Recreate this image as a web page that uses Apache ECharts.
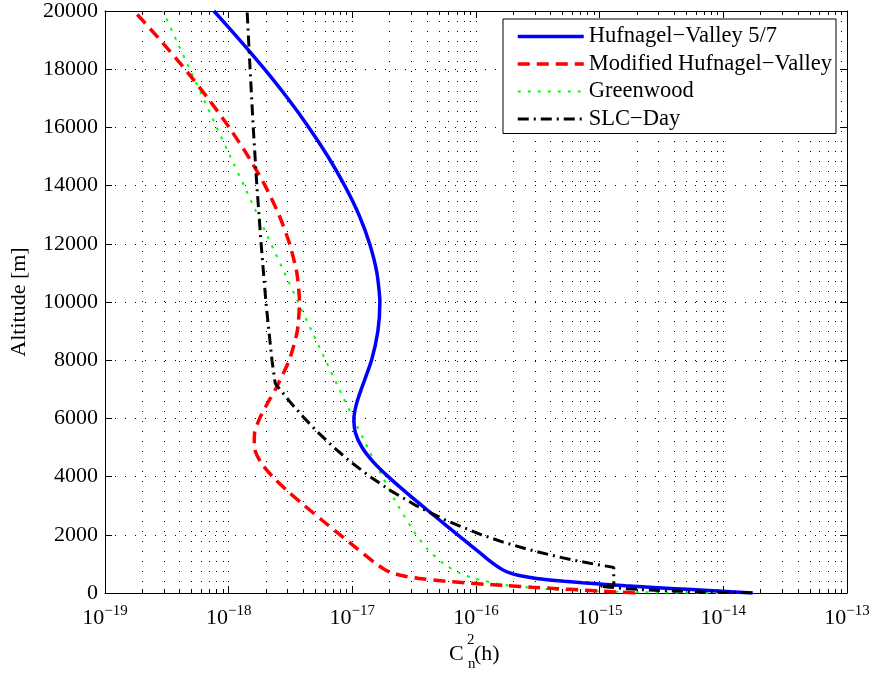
<!DOCTYPE html>
<html>
<head>
<meta charset="utf-8">
<script src="https://cdn.jsdelivr.net/npm/echarts@6/dist/echarts.min.js"></script>
<style>
html,body{margin:0;padding:0;background:#fff;}
#chart{width:873px;height:677px;}
</style>
</head>
<body>
<div id="chart"></div>
<script>
// ---- data ----
const seriesNames = ['Hufnagel\u2212Valley 5/7', 'Modified Hufnagel\u2212Valley', 'Greenwood', 'SLC\u2212Day'];

const hvAlt = [0, 50, 100, 150, 200, 250, 300, 350, 400, 500, 600, 700, 800, 900, 1000, 1200, 1500, 2000, 2500, 3000, 3500, 4000, 4500, 5000, 5500, 6000, 6500, 7000, 8000, 9000, 10000, 11000, 12000, 13000, 14000, 15000, 16000, 17000, 18000, 19000, 20000];
const hvCn2 = [1.73e-14, 1.06e-14, 6.5e-15, 4.04e-15, 2.54e-15, 1.62e-15, 1.07e-15, 7.27e-16, 5.18e-16, 3.08e-16, 2.23e-16, 1.85e-16, 1.64e-16, 1.50e-16, 1.39e-16, 1.21e-16, 9.93e-17, 7.12e-17, 5.1e-17, 3.66e-17, 2.65e-17, 1.95e-17, 1.48e-17, 1.2e-17, 1.06e-17, 1.03e-17, 1.08e-17, 1.18e-17, 1.43e-17, 1.61e-17, 1.67e-17, 1.58e-17, 1.38e-17, 1.13e-17, 8.67e-18, 6.35e-18, 4.45e-18, 3.0e-18, 1.95e-18, 1.23e-18, 7.6e-19];

const mhvAlt = [0, 50, 100, 150, 200, 250, 300, 350, 400, 500, 600, 700, 800, 1000, 1500, 2000, 2500, 3000, 3500, 4000, 4500, 5000, 5500, 6000, 6500, 7000, 8000, 9000, 10000, 11000, 12000, 13000, 14000, 15000, 16000, 17000, 18000, 19000, 20000];
const mhvCn2 = [1.93e-15, 1.18e-15, 7.27e-16, 4.51e-16, 2.84e-16, 1.82e-16, 1.19e-16, 8.13e-17, 5.79e-17, 3.44e-17, 2.50e-17, 2.07e-17, 1.84e-17, 1.56e-17, 1.11e-17, 7.96e-18, 5.7e-18, 4.11e-18, 3.0e-18, 2.26e-18, 1.81e-18, 1.61e-18, 1.62e-18, 1.78e-18, 2.05e-18, 2.39e-18, 3.09e-18, 3.59e-18, 3.74e-18, 3.56e-18, 3.11e-18, 2.55e-18, 1.97e-18, 1.44e-18, 1.01e-18, 6.8e-19, 4.44e-19, 2.8e-19, 1.72e-19];

const gwAlt = [0, 10, 20, 50, 100, 200, 300, 500, 700, 1000, 1500, 2000, 3000, 4000, 5000, 6000, 7000, 8000, 9000, 10000, 11000, 12000, 13000, 14000, 15000, 16000, 17000, 18000, 19000, 20000];
const gwCn2 = [1.1e-14, 4.48e-15, 2.64e-15, 1.10e-15, 5.18e-16, 2.41e-16, 1.58e-16, 9.66e-17, 7.24e-17, 5.48e-17, 4.07e-17, 3.28e-17, 2.34e-17, 1.75e-17, 1.33e-17, 1.02e-17, 7.86e-18, 6.07e-18, 4.70e-18, 3.64e-18, 2.83e-18, 2.20e-18, 1.71e-18, 1.33e-18, 1.03e-18, 8.0e-19, 6.23e-19, 4.85e-19, 3.77e-19, 2.94e-19];

const slcAlt = [0, 18.5, 18.5, 30, 50, 100, 150, 200, 240, 240, 880, 1000, 1100, 1250, 1500, 1750, 2000, 2500, 3000, 3500, 4000, 4500, 5000, 5500, 6000, 6500, 7200, 8000, 10000, 12000, 14000, 16000, 18000, 20000];
const slcCn2 = [1.7e-14, 1.7e-14, 1.46e-14, 8.8e-15, 5.15e-15, 2.49e-15, 1.62e-15, 1.20e-15, 9.92e-16, 1.3e-15, 1.3e-15, 8.87e-16, 6.66e-16, 4.54e-16, 2.63e-16, 1.655e-16, 1.11e-16, 5.68e-17, 3.29e-17, 2.07e-17, 1.39e-17, 9.73e-18, 7.10e-18, 5.33e-18, 4.11e-18, 3.23e-18, 2.38e-18, 2.24e-18, 2.0e-18, 1.83e-18, 1.69e-18, 1.58e-18, 1.49e-18, 1.41e-18];

const xMin = 1e-19, xMax = 1e-13;
const yMin = 0, yMax = 20000, yStep = 2000;
const xTitle = ['C', '2', 'n', '(h)'];
const yTitle = 'Altitude [m]';

// ---- chart ----
const FONT = 'Liberation Serif';
function pairs(xs, ys) { return xs.map((v, i) => [v, ys[i]]); }

const dotted = { color: '#000', width: 1, type: [1, 9] };

const chart = echarts.init(document.getElementById('chart'), null, { renderer: 'canvas' });
chart.setOption({
  animation: false,
  backgroundColor: '#fff',
  grid: { left: 102.5, right: 26, top: 7.5, bottom: 84, containLabel: false },
  xAxis: [
    {
      type: 'log', logBase: 10, min: xMin, max: xMax, splitNumber: 6,
      position: 'bottom',
      axisLine: { show: true, onZero: false, lineStyle: { color: '#000', width: 1 } },
      axisTick: { show: true, inside: true, length: 7, lineStyle: { color: '#000' } },
      minorTick: { show: true, splitNumber: 9, length: 4, lineStyle: { color: '#000' } },
      splitLine: { show: true, lineStyle: dotted },
      minorSplitLine: { show: true, lineStyle: dotted },
      axisLabel: {
        margin: 11,
        formatter: function (v) {
          const e = Math.round(Math.log10(v));
          return '{b|10}{s|' + (e < 0 ? '\u2212' + (-e) : e) + '}';
        },
        rich: {
          b: { fontFamily: FONT, fontSize: 22, color: '#000', lineHeight: 22, padding: [7, 0, 0, 0] },
          s: { fontFamily: FONT, fontSize: 15, color: '#000', lineHeight: 15, verticalAlign: 'top' }
        }
      }
    },
    {
      type: 'log', logBase: 10, min: xMin, max: xMax, splitNumber: 6,
      position: 'top',
      axisLine: { show: true, onZero: false, lineStyle: { color: '#000', width: 1 } },
      axisTick: { show: true, inside: true, length: 7, lineStyle: { color: '#000' } },
      minorTick: { show: true, splitNumber: 9, length: 4, lineStyle: { color: '#000' } },
      axisLabel: { show: false },
      splitLine: { show: false }
    }
  ],
  yAxis: [
    {
      type: 'value', min: yMin, max: yMax, interval: yStep,
      position: 'left',
      name: yTitle, nameLocation: 'middle', nameGap: 75, nameRotate: 90,
      nameTextStyle: { fontFamily: FONT, fontSize: 22, color: '#000' },
      axisLine: { show: true, onZero: false, lineStyle: { color: '#000', width: 1 } },
      axisTick: { show: true, inside: true, length: 7, lineStyle: { color: '#000' } },
      splitLine: { show: true, lineStyle: dotted },
      axisLabel: { margin: 7, fontFamily: FONT, fontSize: 22, color: '#000', formatter: function (v) { return String(v); } }
    },
    {
      type: 'value', min: yMin, max: yMax, interval: yStep,
      position: 'right',
      axisLine: { show: true, onZero: false, lineStyle: { color: '#000', width: 1 } },
      axisTick: { show: true, inside: true, length: 7, lineStyle: { color: '#000' } },
      splitLine: { show: false },
      axisLabel: { show: false }
    }
  ],
  legend: {
    orient: 'vertical', left: 503, top: 19,
    data: seriesNames,
    itemWidth: 66, itemHeight: 12, itemGap: 4.5,
    padding: [6, 4, 3, 13],
    borderColor: '#000', borderWidth: 1, backgroundColor: '#fff', borderRadius: 0,
    itemStyle: { opacity: 0 },
    lineStyle: { width: 'inherit' },
    textStyle: { fontFamily: FONT, fontSize: 22.5, color: '#000', lineHeight: 22.5 }
  },
  graphic: [
    { type: 'text', left: 449, top: 643, style: { text: xTitle[0], font: '22px "Liberation Serif"', fill: '#000' } },
    { type: 'text', left: 467, top: 633, style: { text: xTitle[1], font: '15px "Liberation Serif"', fill: '#000' } },
    { type: 'text', left: 468, top: 657, style: { text: xTitle[2], font: '15px "Liberation Serif"', fill: '#000' } },
    { type: 'text', left: 474, top: 643, style: { text: xTitle[3], font: '22px "Liberation Serif"', fill: '#000' } }
  ],
  series: [
    {
      name: seriesNames[0], type: 'line', data: pairs(hvCn2, hvAlt),
      symbol: 'none', smooth: 0.2, z: 5,
      lineStyle: { color: '#0000ff', width: 3.5, type: 'solid' },
      itemStyle: { color: '#0000ff' }
    },
    {
      name: seriesNames[1], type: 'line', data: pairs(mhvCn2, mhvAlt),
      symbol: 'none', smooth: 0.2, z: 4,
      lineStyle: { color: '#ff0000', width: 3.5, type: [12, 7] },
      itemStyle: { color: '#ff0000' }
    },
    {
      name: seriesNames[2], type: 'line', data: pairs(gwCn2, gwAlt),
      symbol: 'none', smooth: 0.2, z: 3,
      lineStyle: { color: '#00ff00', width: 2, type: [3, 7] },
      itemStyle: { color: '#00ff00' }
    },
    {
      name: seriesNames[3], type: 'line', data: pairs(slcCn2, slcAlt),
      symbol: 'none', smooth: false, z: 6,
      lineStyle: { color: '#000000', width: 3, type: [11, 5, 2, 5] },
      itemStyle: { color: '#000000' }
    }
  ]
});
</script>
</body>
</html>
